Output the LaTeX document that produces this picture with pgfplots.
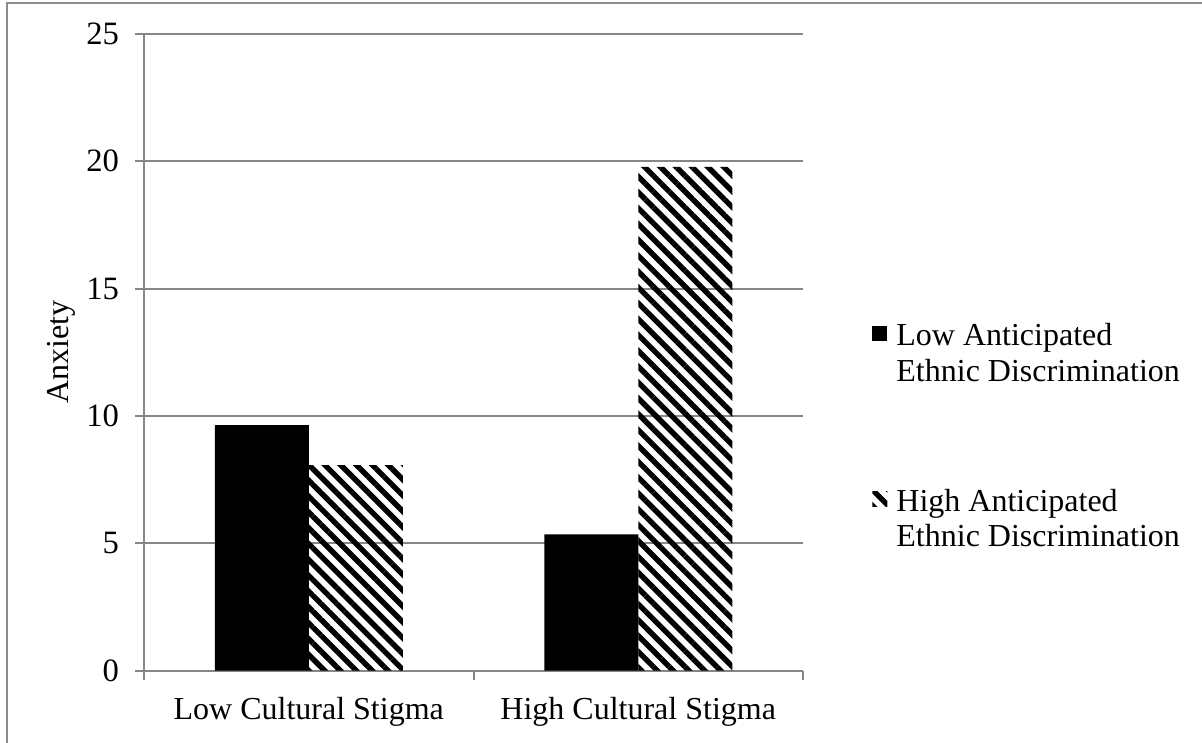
\documentclass[border=0pt]{standalone}
\usepackage{fontspec}
\setmainfont{Liberation Serif}
\usepackage{pgfplots}
\pgfplotsset{compat=1.18}
\usetikzlibrary{patterns.meta}
\definecolor{axgray}{RGB}{134,134,134}
\definecolor{framegray}{RGB}{140,140,140}
\begin{document}
\fontsize{16bp}{17.75bp}\selectfont
\begin{tikzpicture}[x=1bp,y=1bp]
\path[use as bounding box] (-72,-35.75) rectangle (529,335.25);
\draw[framegray, line width=1.2bp] (-68.5,-60) -- (-68.5,333.75) -- (560,333.75);
\begin{axis}[
  at={(0,0)}, anchor=south west,
  scale only axis, width=329.5bp, height=318.25bp,
  xmin=-0.5, xmax=1.5, ymin=0, ymax=25,
  ybar=0pt, bar width=47bp,
  axis x line*=bottom, axis y line*=left,
  axis line style={draw=axgray, line width=1bp, -},
  tick align=outside, major tick length=4.5bp,
  ytick={0,5,10,15,20,25},
  yticklabels={{\fontsize{16.3bp}{18bp}\selectfont 0},{\fontsize{16.3bp}{18bp}\selectfont 5},{\fontsize{16.3bp}{18bp}\selectfont 10},{\fontsize{16.3bp}{18bp}\selectfont 15},{\fontsize{16.3bp}{18bp}\selectfont 20},{\fontsize{16.3bp}{18bp}\selectfont 25}},
  ymajorgrids, grid style={draw=axgray, line width=1bp},
  y tick style={draw=axgray, line width=1bp},
  xtick={0,1}, xticklabels={Low Cultural Stigma, High Cultural Stigma},
  x tick style={draw=none},
  extra x ticks={-0.5,0.5,1.5}, extra x tick labels={},
  extra x tick style={x tick style={draw=axgray, line width=1bp}, grid=none},
  /pgf/number format/assume math mode=true,
  y tick label style={xshift=-2.5bp, font=\fontsize{16.3bp}{18bp}\selectfont},
  x tick label style={yshift=-3.5bp, font=\fontsize{16bp}{17.75bp}\selectfont},
  ylabel={Anxiety},
  ylabel style={at={(axis description cs:-0.125,0.5)}, anchor=center, font=\fontsize{16bp}{17.75bp}\selectfont},
  legend cell align=left,
  legend style={at={(rel axis cs:1.1047,0.55)}, anchor=north west, draw=none, fill=none,
    inner sep=0pt, nodes={inner sep=0pt}, row sep=68bp, column sep=4.5bp,
    font=\fontsize{16bp}{17.75bp}\selectfont},
  legend image code/.code={\fill[#1] (0bp,-2.5bp) rectangle (7.5bp,5bp);},
]
\addplot[draw=none, fill=black] coordinates {(0,9.64) (1,5.35)};
\addlegendentry{\begin{tabular}[t]{@{}l@{}}Low Anticipated\\Ethnic Discrimination\end{tabular}}
\addplot[draw=none, fill=white, pattern={Lines[angle=-45, distance=5.6bp, line width=2.7bp]}, pattern color=black] coordinates {(0,8.07) (1,19.78)};
\addlegendentry{\begin{tabular}[t]{@{}l@{}}High Anticipated\\Ethnic Discrimination\end{tabular}}
\end{axis}
\end{tikzpicture}
\end{document}
